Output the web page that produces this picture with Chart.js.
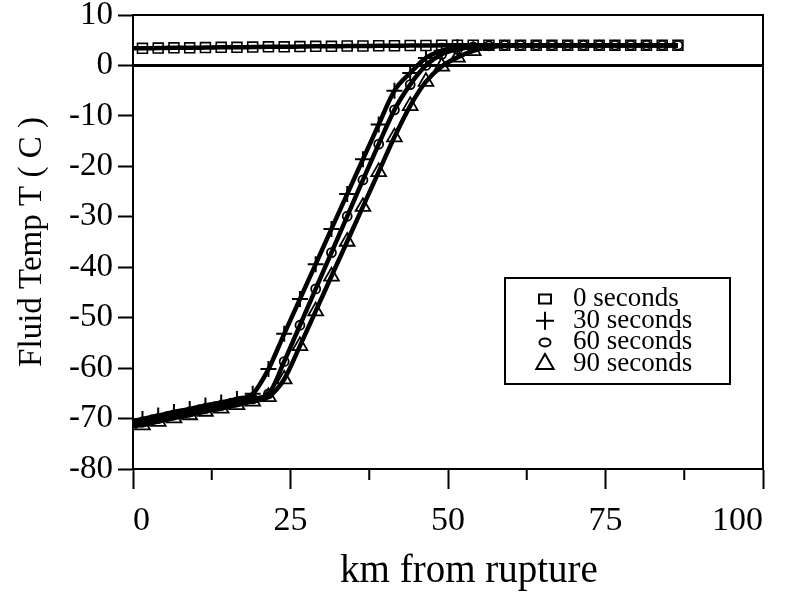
<!DOCTYPE html>
<html><head><meta charset="utf-8">
<script src="https://cdn.jsdelivr.net/npm/chart.js@4.4.1/dist/chart.umd.min.js"></script>
<style>html,body{margin:0;padding:0;background:#fff;}#wrap{width:785px;height:596px;position:relative;}</style>
</head><body><div id="wrap"><canvas id="c" width="785" height="596"></canvas></div>
<script>
// ---- data (km from rupture, fluid temperature in C) ----
const km = [0, 1.5, 4, 6.5, 9, 11.5, 14, 16.5, 19, 21.5, 24, 26.5, 29, 31.5, 34, 36.5, 39, 41.5, 44, 46.5, 49, 51.5, 54, 56.5, 59, 61.5, 64, 66.5, 69, 71.5, 74, 76.5, 79, 81.5, 84, 86.5];
const temp0s = [3.4, 3.4, 3.45, 3.5, 3.5, 3.55, 3.6, 3.6, 3.65, 3.7, 3.7, 3.75, 3.8, 3.8, 3.85, 3.85, 3.9, 3.9, 3.95, 3.95, 4.0, 4.0, 4.0, 4.0, 4.0, 4.0, 4.0, 4.0, 4.0, 4.0, 4.0, 4.0, 4.0, 4.0, 4.0, 4.0];
const temp30s = [-70.5, -70.1, -69.4, -68.7, -68.1, -67.4, -66.8, -66.1, -65.1, -60.2, -53.2, -46.3, -39.4, -32.4, -25.5, -18.6, -11.7, -5.0, -1.5, 1.5, 2.9, 3.6, 3.9, 4.0, 4.0, 4.0, 4.0, 4.0, 4.0, 4.0, 4.0, 4.0, 4.0, 4.0, 4.0, 4.0];
const temp60s = [-70.9, -70.7, -70.0, -69.3, -68.7, -68.0, -67.4, -66.7, -66.1, -65.1, -58.7, -51.5, -44.3, -37.1, -29.9, -22.7, -15.6, -8.8, -3.8, 0.0, 2.2, 3.2, 3.7, 3.9, 4.0, 4.0, 4.0, 4.0, 4.0, 4.0, 4.0, 4.0, 4.0, 4.0, 4.0, 4.0];
const temp90s = [-71.5, -71.3, -70.6, -69.9, -69.3, -68.6, -68.0, -67.3, -66.6, -65.7, -62.2, -55.6, -48.7, -41.8, -34.9, -28.0, -21.1, -14.2, -8.0, -3.2, -0.2, 1.6, 2.9, 3.6, 3.9, 4.0, 4.0, 4.0, 4.0, 4.0, 4.0, 4.0, 4.0, 4.0, 4.0, 4.0];
const seriesLabels = ['0 seconds', '30 seconds', '60 seconds', '90 seconds'];
const lastMarkerKm = [86.5, 51.5, 86.5, 54];
const zeroLineKm = [0, 100];
const zeroLineTemp = [0, 0];
const xLabelValues = [0, 25, 50, 75, 100];
const yTickValues = [10, 0, -10, -20, -30, -40, -50, -60, -70, -80];
const xTitle = 'km from rupture';
const yTitle = 'Fluid Temp T ( C )';

const FONT = "'Liberation Serif', 'Times New Roman', serif";
const pts = ys => km.map((x, i) => ({x: x, y: ys[i]}));

const markerStyles = [
  {pointStyle: 'rect', radius: 7, borderWidth: 1.6, legendW: 12, legendR: 6.4},
  {pointStyle: 'cross', radius: 8, borderWidth: 2, legendW: 0, legendR: 9},
  {pointStyle: 'circle', radius: 4.5, borderWidth: 1.8, legendW: 11, legendR: 4},
  {pointStyle: 'triangle', radius: 8.5, borderWidth: 1.8, legendW: 0, legendR: 10}
];
const seriesData = [temp0s, temp30s, temp60s, temp90s];

const datasets = seriesData.map((d, i) => ({
  label: seriesLabels[i],
  data: pts(d),
  borderColor: '#000',
  borderWidth: 4.5,
  backgroundColor: 'rgba(0,0,0,0)',
  pointBorderColor: '#000',
  pointBackgroundColor: 'rgba(0,0,0,0)',
  pointStyle: markerStyles[i].pointStyle,
  pointRadius: ctx => (ctx.dataIndex === 0 || km[ctx.dataIndex] > lastMarkerKm[i]) ? 0 : markerStyles[i].radius,
  pointBorderWidth: markerStyles[i].borderWidth,
  pointHoverRadius: 0,
  cubicInterpolationMode: 'monotone',
  fill: false
}));
datasets.push({
  label: 'zero',
  data: zeroLineKm.map((x, i) => ({x: x, y: zeroLineTemp[i]})),
  borderColor: '#000', borderWidth: 3, pointRadius: 0, fill: false
});

const frameAndTicks = {
  id: 'frameAndTicks',
  afterDraw(chart, args, opts) {
    const {ctx, chartArea: a} = chart;
    ctx.save();
    ctx.strokeStyle = '#000';
    ctx.lineWidth = 2;
    ctx.strokeRect(a.left, a.top, a.right - a.left, a.bottom - a.top);
    const xs = chart.scales.x;
    xs.ticks.forEach(t => {
      if (xLabelValues.indexOf(t.value) === -1) {
        const px = xs.getPixelForValue(t.value);
        ctx.beginPath();
        ctx.moveTo(px, a.bottom);
        ctx.lineTo(px, a.bottom + opts.minorLength);
        ctx.stroke();
      }
    });
    // x-axis title (slightly right of centre, as in the original)
    ctx.fillStyle = '#000';
    ctx.font = opts.titleSize + 'px ' + FONT;
    ctx.textAlign = 'center';
    ctx.textBaseline = 'middle';
    ctx.fillText(xTitle, (a.left + a.right) / 2 + opts.titleShift, opts.titleY);
    ctx.restore();
  }
};

const legendBox = {
  id: 'legendBox',
  afterDraw(chart, args, o) {
    const ctx = chart.ctx;
    ctx.save();
    ctx.lineWidth = 2;
    ctx.strokeStyle = '#000';
    ctx.strokeRect(o.left, o.top, o.width, o.height);
    ctx.font = o.fontSize + 'px ' + FONT;
    ctx.textBaseline = 'middle';
    ctx.textAlign = 'left';
    seriesLabels.forEach((lab, i) => {
      const y = o.top + o.firstRow + i * o.rowGap;
      const m = markerStyles[i];
      ctx.strokeStyle = '#000';
      ctx.fillStyle = 'rgba(0,0,0,0)';
      ctx.lineWidth = 2;
      Chart.helpers.drawPointLegend(ctx, {pointStyle: m.pointStyle, radius: m.legendR, borderWidth: 2, rotation: 0}, o.left + o.symbolX, y, m.legendW || undefined);
      ctx.fillStyle = '#000';
      ctx.fillText(lab, o.left + o.textX, y);
    });
    ctx.restore();
  }
};

new Chart(document.getElementById('c'), {
  type: 'line',
  data: {datasets: datasets},
  plugins: [frameAndTicks, legendBox],
  options: {
    responsive: false,
    animation: false,
    events: [],
    layout: {padding: {top: 15, right: 22, left: 0, bottom: 0}},
    plugins: {
      legend: {display: false},
      tooltip: {enabled: false},
      frameAndTicks: {minorLength: 11, titleSize: 39, titleShift: 21, titleY: 572},
      legendBox: {left: 505, top: 278, width: 225, height: 106, firstRow: 21, rowGap: 21.7, symbolX: 40, textX: 68, fontSize: 27}
    },
    scales: {
      x: {
        type: 'linear', min: 0, max: 100,
        afterFit: s => { s.height = 127; s.paddingLeft = 0; s.paddingRight = 0; },
        afterBuildTicks: s => { s.ticks = [0, 12.5, 25, 37.5, 50, 62.5, 75, 87.5, 100].map(v => ({value: v})); },
        ticks: {
          autoSkip: false, maxRotation: 0, align: 'inner',
          color: '#000', font: {family: FONT, size: 34}, padding: 12,
          callback: v => xLabelValues.indexOf(v) !== -1 ? String(v) : ''
        },
        grid: {display: true, drawOnChartArea: false, drawTicks: true, tickLength: 20, tickWidth: 2,
               tickColor: c => (c.tick && xLabelValues.indexOf(c.tick.value) !== -1) ? '#000' : 'rgba(0,0,0,0)'},
        border: {display: true, color: '#000', width: 2},
        title: {display: false}
      },
      y: {
        type: 'linear', min: -80, max: 10,
        afterFit: s => { s.width = 133; s.paddingTop = 0; s.paddingBottom = 0; },
        afterBuildTicks: s => { s.ticks = yTickValues.map(v => ({value: v})); },
        ticks: {color: '#000', font: {family: FONT, size: 33}, padding: 5, autoSkip: false},
        grid: {display: true, drawOnChartArea: false, drawTicks: true, tickLength: 15, tickWidth: 2, tickColor: '#000'},
        border: {display: true, color: '#000', width: 2},
        title: {display: true, text: yTitle, color: '#000', font: {family: FONT, size: 33}, padding: {top: 13, bottom: 0}}
      }
    }
  }
});
</script></body></html>
